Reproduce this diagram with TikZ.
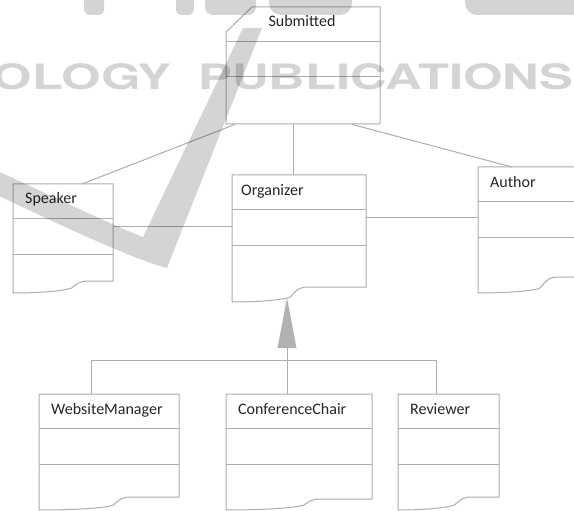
\documentclass[tikz,border=0pt]{standalone}
\usepackage{fontspec}
\setmainfont{Carlito}
\newfontfamily\wmfont{TeX Gyre Heros}
\usetikzlibrary{calc}
\tikzset{
  ln/.style={draw=black!32, line width=1pt},
  box/.style={anchor=north west, inner sep=0pt, draw=none},
  lbl/.style={anchor=base west, inner sep=0pt, text=black!85, font=\fontsize{16}{19}\selectfont},
  wm/.style={fill=black, fill opacity=0.17, draw=none}
}
\newcommand\uclass[9]{%
  \node[box, minimum width=#4pt, minimum height=#5pt] (#1) at (#2,#3) {};
  \node[lbl] (#1-l) at (#2+#9,#3+20) {#8};
  \draw[ln] (#2,#3+#5) -- (#2,#3) -- (#2+#4,#3) -- (#2+#4,#3+#6) -- (#2+#7+20,#3+#6)
    .. controls (#2+#7+7,#3+#6) and (#2+#7+5,#3+#5-3) .. (#2+#7,#3+#5-4)
    .. controls (#2+#7-8,#3+#5-2) and (#2+#7*0.5,#3+#5) .. (#2,#3+#5);
  \draw[ln] (#2,#3+34) -- (#2+#4,#3+34) (#2,#3+70) -- (#2+#4,#3+70);
}
\begin{document}
\begin{tikzpicture}[x=1pt,y=-1pt]
\clip (0,0) rectangle (574,511);
\fill[white] (0,0) rectangle (574,511);

% Submitted
\node[box, minimum width=154pt, minimum height=117pt] (sub) at (226,7) {};
\node[lbl, anchor=base] (sub-l) at (302,27) {Submitted};
\draw[ln] (226,124) -- (226,32) -- (252,7) -- (380,7) -- (380,124) -- cycle;
\draw[ln] (226,42) -- (380,42) (226,77) -- (380,77);

\uclass{sp}{13}{184}{100}{109}{97}{55}{Speaker}{12}
\uclass{org}{232}{175}{134}{127}{112}{55}{Organizer}{9}
\uclass{au}{478}{167}{110}{126}{110}{59}{Author}{12}
\uclass{wm}{39}{394}{140}{116}{103}{71}{WebsiteManager}{12}
\uclass{cc}{226}{394}{146}{116}{105}{74}{ConferenceChair}{12}
\uclass{rev}{398}{394}{101}{116}{103}{53}{Reviewer}{12}

% associations
\draw[ln] ($(sub.south west)+(9,0)$) -- ($(sp.north west)+(69,0)$);
\draw[ln] ($(sub.south west)+(67,0)$) -- ($(org.north west)+(61,0)$);
\draw[ln] ($(sub.south west)+(126,0)$) -- ($(au.north west)+(34,0)$);
\draw[ln] ($(sp.north east)+(0,42)$) -- ($(org.north west)+(0,51)$);
\draw[ln] ($(org.north east)+(0,42)$) -- ($(au.north west)+(0,50)$);

% generalization
\coordinate (tip) at ($(org.north west)+(55,123)$);
\coordinate (base) at ($(tip)+(0,50)$);
\fill[black!30] (tip) -- ($(base)+(-9.5,0)$) -- ($(base)+(9.5,0)$) -- cycle;
\draw[ln] ($(cc.north west)+(61,0)$) -- (base);
\draw[ln] ($(wm.north west)+(52,0)$) -- ++(0,-34) -| ($(rev.north west)+(38,0)$);

% watermark
\fill[wm] (-5,170) .. controls (40,190) and (100,220) .. (143,237) -- (243,28) -- (262,28) -- (167,268)
  .. controls (130,258) and (60,225) .. (-5,194) -- cycle;
\fill[wm, rounded corners=6pt] (84,-20) rectangle (104,15);
\fill[wm, rounded corners=6pt] (176,-20) rectangle (194,15);
\fill[wm, rounded corners=8pt] (205,-20) rectangle (256,15);
\fill[wm, rounded corners=12pt] (269,-20) rectangle (352,15);
\fill[wm, rounded corners=12pt] (465,-20) rectangle (590,15);
\node[anchor=base east, inner sep=0pt, text=black, text opacity=0.17, font=\wmfont\bfseries\fontsize{35}{40}\selectfont] (wm1) at (172,90) {\scalebox{1.45}[1]{OLOGY}};
\node[anchor=base west, inner sep=0pt, text=black, text opacity=0.17, font=\wmfont\bfseries\fontsize{35}{40}\selectfont] (wm2) at (198,90) {\scalebox{1.45}[1]{PUBLICATIONS}};
\end{tikzpicture}
\end{document}
